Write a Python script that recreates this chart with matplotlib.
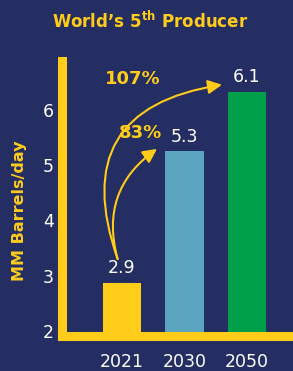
import numpy as np
import matplotlib
matplotlib.use("Agg")
import matplotlib.pyplot as plt

plt.rcParams['font.family'] = ['DejaVu Sans']
plt.rcParams['mathtext.fontset'] = 'custom'
plt.rcParams['mathtext.bf'] = 'DejaVu Sans:bold'

# data
years = ['2021', '2030', '2050']
heights = [2.87, 5.25, 6.32]
value_labels = ['2.9', '5.3', '6.1']
growth = ['83%', '107%']
yticks = [2, 3, 4, 5, 6]

navy = '#252E62'
yellow = '#FFCC1A'
bar_colors = [yellow, '#5BA5C1', '#00A04A']

fig = plt.figure(figsize=(2.93, 3.71), dpi=100, facecolor=navy)
ax = fig.add_axes([0.2133, 0.093, 0.7867, 0.7427])
ax.set_facecolor(navy)

x = np.arange(len(years))
base = 1.90
ax.bar(x, np.array(heights) - base, bottom=base, width=0.61,
       color=bar_colors, zorder=2)

ax.set_xlim(-0.952, 2.736)
ax.set_ylim(base, 6.88)

for s in ['top', 'right']:
    ax.spines[s].set_visible(False)
for s in ['left', 'bottom']:
    ax.spines[s].set_color(yellow)
    ax.spines[s].set_linewidth(6.5)
    ax.spines[s].set_zorder(3)
ax.spines['bottom'].set_capstyle('projecting')

ax.set_xticks(x)
ax.set_xticklabels(years)
ax.set_yticks(yticks)
ax.tick_params(length=0, colors='white', labelsize=12.5)
ax.tick_params(axis='x', pad=12)
ax.tick_params(axis='y', pad=6)

ax.set_ylabel('MM Barrels/day', color=yellow, fontsize=11.5, fontweight='bold')
ax.yaxis.set_label_coords(-0.155, 0.455)

for xi, h, lab in zip(x, heights, value_labels):
    ax.text(xi, h + 0.1, lab, color='white', fontsize=12.5,
            ha='center', va='bottom')

# curved growth arrows
start = (-0.07, 3.3)
ax.annotate('', xy=(0.56, 5.29), xytext=start,
            arrowprops=dict(arrowstyle='-|>,head_length=0.6,head_width=0.3',
                            color=yellow, lw=1.5, shrinkA=0, shrinkB=0,
                            mutation_scale=14,
                            connectionstyle='arc3,rad=-0.35'))
ax.annotate('', xy=(1.6, 6.45), xytext=start,
            arrowprops=dict(arrowstyle='-|>,head_length=0.6,head_width=0.3',
                            color=yellow, lw=1.5, shrinkA=0, shrinkB=0,
                            mutation_scale=14,
                            connectionstyle='arc3,rad=-0.6'))
ax.text(0.29, 5.57, growth[0], color=yellow, fontsize=13, fontweight='bold',
        ha='center', va='center')
ax.text(0.18, 6.55, growth[1], color=yellow, fontsize=13, fontweight='bold',
        ha='center', va='center')

fig.text(0.512, 0.943, r"World’s 5$^{\mathbf{th}}$ Producer", color=yellow,
         fontsize=12, fontweight='bold', ha='center', va='center')

fig.savefig('out.png', dpi=100, facecolor=navy)
